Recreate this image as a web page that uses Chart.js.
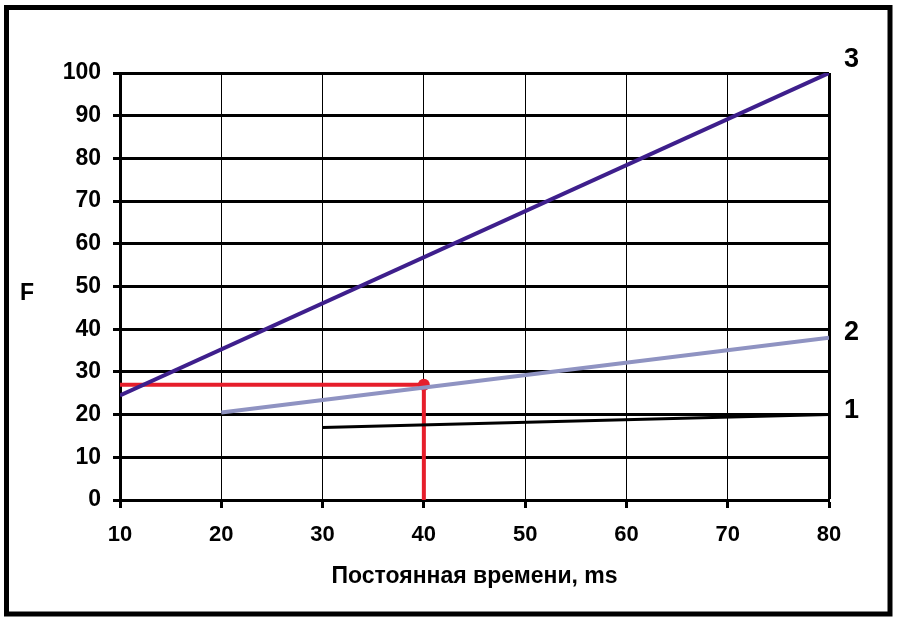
<!DOCTYPE html>
<html>
<head>
<meta charset="utf-8">
<script src="https://cdn.jsdelivr.net/npm/chart.js@4.4.1/dist/chart.umd.min.js"></script>
<style>
  html, body { margin: 0; padding: 0; background: #fff; }
  #wrap { width: 900px; height: 623px; position: relative; }
</style>
</head>
<body>
<div id="wrap"><canvas id="lineChart" width="900" height="623"></canvas></div>
<script>
// data
const xTicks = [10, 20, 30, 40, 50, 60, 70, 80];
const yTicks = [0, 10, 20, 30, 40, 50, 60, 70, 80, 90, 100];
const seriesNames = ['1', '2', '3'];
const line1X = [30, 80];
const line1Y = [17, 20];
const line2X = [20, 80];
const line2Y = [20.5, 38];
const line3X = [10, 80];
const line3Y = [24.5, 100];
const readX = [10, 40, 40];
const readY = [27, 27, 0];
const xTitle = 'Постоянная времени, ms';
const yTitle = 'F';

const FONT = '"Liberation Sans", Arial, sans-serif';

const toPoints = (xs, ys) => xs.map((x, i) => ({ x: x, y: ys[i] }));

const framePlugin = {
    id: 'frame',
    afterDraw(chart) {
        const c = chart.ctx;
        c.save();
        c.strokeStyle = '#000';
        c.lineWidth = 5;
        c.strokeRect(6.5, 7.5, 883.5, 606.5);

        // y title, not rotated
        c.fillStyle = '#000';
        c.font = 'bold 23px ' + FONT;
        c.textAlign = 'center';
        c.textBaseline = 'middle';
        c.fillText(yTitle, 27, 294);

        // series numbers at the right end of each line
        const xs = chart.scales.x, ys = chart.scales.y;
        c.font = 'bold 27px ' + FONT;
        c.textAlign = 'left';
        const ends = [line1Y[line1Y.length - 1], line2Y[line2Y.length - 1], line3Y[line3Y.length - 1]];
        const lift = [4, 5, 13];
        seriesNames.forEach((n, i) => {
            c.fillText(n, xs.getPixelForValue(80) + 15, ys.getPixelForValue(ends[i]) - lift[i]);
        });
        c.restore();
    }
};

var ctx = document.getElementById('lineChart').getContext('2d');
var lineChart = new Chart(ctx, {
    type: 'line',
    data: {
        datasets: [{
            label: '1',
            data: toPoints(line1X, line1Y),
            borderColor: '#000000',
            borderWidth: 3,
            pointRadius: 0,
        }, {
            label: '2',
            data: toPoints(line2X, line2Y),
            borderColor: '#8f93c2',
            borderWidth: 4,
            pointRadius: 0,
        }, {
            label: '3',
            data: toPoints(line3X, line3Y),
            borderColor: '#3e1f8c',
            borderWidth: 4,
            pointRadius: 0,
        }, {
            label: 'read',
            data: toPoints(readX, readY),
            borderColor: '#e61e2b',
            backgroundColor: '#e61e2b',
            borderWidth: 4,
            pointRadius: [0, 6, 0],
            pointBorderWidth: 0,
        }]
    },
    options: {
        responsive: false,
        animation: false,
        layout: {
            padding: { left: 20, right: 71, top: 73, bottom: 33 }
        },
        plugins: {
            legend: { display: false },
            tooltip: { enabled: false }
        },
        scales: {
            x: {
                type: 'linear',
                min: 10,
                max: 80,
                afterBuildTicks: (s) => { s.ticks = xTicks.map(v => ({ value: v })); },
                ticks: {
                    color: '#000',
                    padding: 14,
                    font: { size: 22, weight: 'bold', family: FONT },
                },
                grid: {
                    color: '#000',
                    lineWidth: (c) => (c.tick && c.tick.value === 80 ? 3 : 1),
                    tickLength: 8,
                    tickWidth: 3,
                    tickColor: '#000',
                },
                border: { display: true, color: '#000', width: 3 },
                title: {
                    display: true,
                    text: xTitle,
                    color: '#000',
                    padding: { top: 0, bottom: 0 },
                    font: { size: 23, weight: 'bold', family: FONT },
                }
            },
            y: {
                min: 0,
                max: 100,
                afterBuildTicks: (s) => { s.ticks = yTicks.map(v => ({ value: v })); },
                afterFit: (s) => { s.width = 100; },
                ticks: {
                    color: '#000',
                    padding: 12,
                    font: { size: 23, weight: 'bold', family: FONT },
                },
                grid: {
                    color: '#000',
                    lineWidth: 3,
                    tickLength: 7,
                    tickWidth: 3,
                    tickColor: '#000',
                },
                border: { display: true, color: '#000', width: 3 },
            }
        }
    },
    plugins: [framePlugin]
});
</script>
</body>
</html>
